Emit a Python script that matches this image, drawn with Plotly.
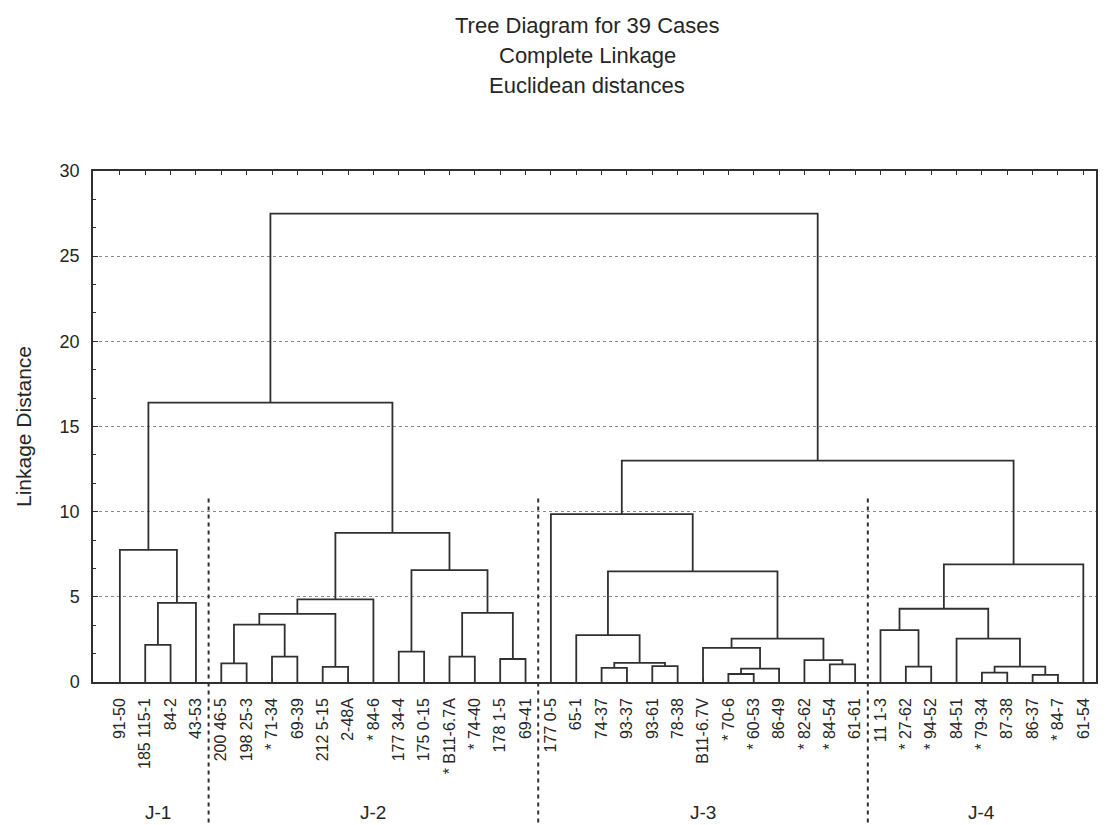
import plotly.graph_objects as go

# Case labels in dendrogram leaf order
leaf_labels = [
    "91-50", "185 115-1", "84-2", "43-53",
    "200 46-5", "198 25-3", "* 71-34", "69-39", "212 5-15", "2-48A", "* 84-6",
    "177 34-4", "175 0-15", "* B11-6.7A", "* 74-40", "178 1-5", "69-41",
    "177 0-5", "65-1", "74-37", "93-37", "93-61", "78-38", "B11-6.7V", "* 70-6",
    "* 60-53", "86-49", "* 82-62", "* 84-54", "61-61",
    "11 1-3", "* 27-62", "* 94-52", "84-51", "* 79-34", "87-38", "86-37", "* 84-7", "61-54",
]

# Linkage steps: ids 0..38 are cases, id 39+k is the cluster formed at step k
merge_left = [
    1, 39, 0,
    4, 6, 42, 8, 44, 46, 11, 13, 15, 49, 48, 47, 41,
    19, 21, 55, 18, 24, 59, 23, 28, 27, 61, 58, 17,
    31, 30, 34, 36, 69, 33, 68, 73, 66, 54,
]
merge_right = [
    2, 3, 40,
    5, 7, 43, 9, 45, 10, 12, 14, 16, 50, 51, 52, 53,
    20, 22, 56, 57, 25, 26, 60, 29, 62, 63, 64, 65,
    32, 67, 35, 37, 70, 71, 72, 38, 74, 75,
]
merge_height = [
    2.18, 4.65, 7.76,
    1.09, 1.49, 3.37, 0.89, 4.0, 4.85, 1.78, 1.49, 1.35, 4.06, 6.57, 8.75, 16.4,
    0.83, 0.93, 1.12, 2.75, 0.47, 0.79, 2.0, 1.03, 1.28, 2.55, 6.5, 9.85,
    0.9, 3.05, 0.55, 0.42, 0.9, 2.55, 4.3, 6.9, 13.0, 27.5,
]

# Cluster groups marked below the axis
group_names = ["J-1", "J-2", "J-3", "J-4"]
group_first = [1, 5, 18, 31]
group_last = [4, 17, 30, 39]
separator_top = 11.0

title_lines = ["Tree Diagram for 39 Cases", "Complete Linkage", "Euclidean distances"]

n = len(leaf_labels)
leaf_pos = list(range(1, n + 1))

node_x = {i: leaf_pos[i] for i in range(n)}
node_h = {i: 0.0 for i in range(n)}
xs, ys = [], []
for k, (a, b, h) in enumerate(zip(merge_left, merge_right, merge_height)):
    xa, xb = node_x[a], node_x[b]
    xs += [xa, xa, xb, xb, None]
    ys += [node_h[a], h, h, node_h[b], None]
    node_x[n + k] = (xa + xb) / 2
    node_h[n + k] = h

line_col = "#303030"
text_col = "#262626"
font_family = "Liberation Sans, Arial, sans-serif"

fig = go.Figure()
fig.add_trace(go.Scatter(
    x=xs, y=ys, mode="lines",
    line=dict(color=line_col, width=1.8),
    hoverinfo="skip", showlegend=False,
))

y_max = 30.0
shapes = []
annotations = []

# Three centred title lines above the plot
for i, line in enumerate(title_lines):
    annotations.append(dict(
        x=0.493, y=1.2857 - i * 0.0595, xref="paper", yref="paper",
        text=line, showarrow=False, font=dict(size=22, color=text_col),
        xanchor="center", yanchor="middle",
    ))

for first, last, name in zip(group_first, group_last, group_names):
    annotations.append(dict(
        x=(first + last) / 2, y=-0.256, xref="x", yref="paper",
        text=name, showarrow=False, font=dict(size=19, color=text_col),
        xanchor="center", yanchor="middle",
    ))
for last in group_last[:-1]:
    shapes.append(dict(
        type="line", xref="x", yref="paper",
        x0=last + 0.5, x1=last + 0.5, y0=-0.275, y1=separator_top / y_max,
        line=dict(color=line_col, width=2, dash="4px,4px"),
    ))

fig.update_layout(
    width=1110, height=825,
    margin=dict(l=93, r=12, t=171, b=143),
    paper_bgcolor="white", plot_bgcolor="white",
    font=dict(family=font_family, color=text_col),
    showlegend=False,
    shapes=shapes,
    annotations=annotations,
)

fig.update_xaxes(
    range=[-0.06, 39.5],
    tickmode="array", tickvals=leaf_pos, ticktext=leaf_labels,
    tickangle=-90, tickfont=dict(size=16, color=text_col),
    ticks="inside", ticklen=4, tickcolor=line_col,
    ticklabelstandoff=8,
    showline=True, linecolor=line_col, linewidth=1.5, mirror="ticks",
    showgrid=False, zeroline=False,
)
fig.update_yaxes(
    range=[0, y_max], dtick=5, tick0=0,
    tickfont=dict(size=18, color=text_col),
    ticks="inside", ticklen=5, tickcolor=line_col,
    ticklabelstandoff=8,
    showline=True, linecolor=line_col, linewidth=1.5, mirror=True,
    showgrid=True, gridcolor="#8a8a8a", gridwidth=1.2, griddash="dot",
    zeroline=False,
    minor=dict(dtick=5 / 3, tick0=0, ticks="inside", ticklen=3,
               tickcolor=line_col, showgrid=False),
    title=dict(text="Linkage Distance", font=dict(size=21, color=text_col), standoff=22),
)

fig.write_html("out.html")
